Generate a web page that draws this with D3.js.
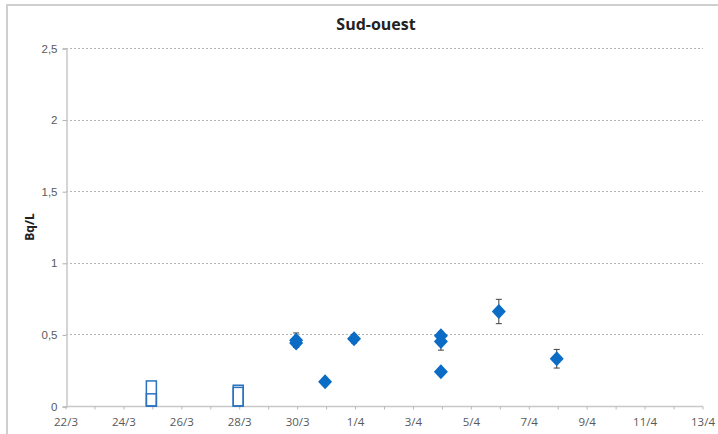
<!DOCTYPE html>
<html>
<head>
<meta charset="utf-8">
<script src="https://cdn.jsdelivr.net/npm/d3@7"></script>
<style>
  html, body { margin: 0; padding: 0; background: #fff; }
  svg { display: block; font-family: "Open Sans", "Noto Sans", sans-serif; }
</style>
</head>
<body>
<svg id="chart" width="718" height="434"></svg>
<script>
// Measurements (Bq/L) with uncertainty
const pointDates = ["2011-03-30", "2011-03-30", "2011-03-31", "2011-04-01", "2011-04-04", "2011-04-04", "2011-04-04", "2011-04-06", "2011-04-08"];
const pointValues = [0.44, 0.46, 0.17, 0.47, 0.49, 0.45, 0.24, 0.66, 0.33];
const pointErrors = [0.03, 0.05, 0.02, 0.03, 0.03, 0.06, 0.02, 0.085, 0.065];

// Detection limits (values below the limit)
const limitDates = ["2011-03-25", "2011-03-25", "2011-03-28", "2011-03-28"];
const limitValues = [0.175, 0.085, 0.145, 0.13];

const yTicks = [0, 0.5, 1, 1.5, 2, 2.5];
const xStart = "2011-03-22", xEnd = "2011-04-13";

const parse = d3.utcParse("%Y-%m-%d");
const fmtNum = v => String(v).replace(".", ",");
const fmtDate = d3.utcFormat("%-d/%-m");

const svg = d3.select("#chart");
const blue = "#0a6cc4";

// outer chart frame
svg.append("rect").attr("x", 7).attr("y", 5).attr("width", 730).attr("height", 450)
  .attr("fill", "none").attr("stroke", "#cfcfcf").attr("stroke-width", 2);

const x = d3.scaleUtc().domain([parse(xStart), parse(xEnd)]).range([64.5, 701.5]);
const y = d3.scaleLinear().domain([0, 2.5]).range([406, 48]);

// gridlines
svg.append("g").selectAll("line").data(yTicks.filter(t => t > 0)).join("line")
  .attr("x1", 66).attr("x2", 703)
  .attr("y1", d => Math.round(y(d)) + 0.5).attr("y2", d => Math.round(y(d)) + 0.5)
  .attr("stroke", "#b4b4b4").attr("stroke-dasharray", "2,2");

// y axis
const yAxis = svg.append("g").attr("transform", "translate(66.5,0.5)")
  .call(d3.axisLeft(y).tickValues(yTicks).tickFormat(fmtNum).tickSize(4).tickPadding(5));
yAxis.select(".domain").attr("stroke", "#c8c8c8").attr("stroke-width", 1.5);
yAxis.selectAll(".tick line").attr("stroke", "#b0b0b0");
yAxis.selectAll("text").attr("fill", "#595959").attr("font-size", 11.5);

// x axis
const days = d3.utcDay.range(parse(xStart), d3.utcDay.offset(parse(xEnd), 1));
const labelDays = days.filter((d, i) => i % 2 === 0);
const xAxisG = svg.append("g").attr("transform", "translate(0,406.5)");
xAxisG.append("line").attr("x1", 66).attr("x2", 703).attr("stroke", "#c8c8c8").attr("stroke-width", 1.5);
xAxisG.selectAll(".minor").data(days).join("line")
  .attr("x1", d => x(d) + 1.5).attr("x2", d => x(d) + 1.5).attr("y1", 0).attr("y2", 3)
  .attr("stroke", "#b8b8b8");
xAxisG.selectAll("text").data(labelDays).join("text")
  .attr("x", d => x(d) + 1.5).attr("y", 19)
  .attr("text-anchor", "middle").attr("fill", "#595959").attr("font-size", 11.5)
  .text(fmtDate);

// detection-limit boxes
svg.append("g").selectAll("rect").data(limitDates.map((d, i) => ({ d: parse(d), v: limitValues[i] }))).join("rect")
  .attr("x", d => x(d.d) - 5).attr("width", 10)
  .attr("y", d => y(d.v)).attr("height", d => y(0) - y(d.v))
  .attr("fill", "none").attr("stroke", "#2a72c0").attr("stroke-width", 1.5);

// error bars
const pts = pointDates.map((d, i) => ({ d: parse(d), v: pointValues[i], e: pointErrors[i] }));
const eb = svg.append("g").attr("stroke", "#404040").attr("stroke-width", 1);
pts.forEach(p => {
  const cx = x(p.d);
  eb.append("line").attr("x1", cx).attr("x2", cx).attr("y1", y(p.v + p.e)).attr("y2", y(p.v - p.e));
  [p.v + p.e, p.v - p.e].forEach(v => {
    eb.append("line").attr("x1", cx - 3).attr("x2", cx + 3).attr("y1", y(v)).attr("y2", y(v));
  });
});

// diamonds
svg.append("g").selectAll("path").data(pts).join("path")
  .attr("transform", d => `translate(${x(d.d)},${y(d.v)})`)
  .attr("d", "M0,-7.5L7,0L0,7.5L-7,0Z")
  .attr("fill", blue);

// title and axis label
svg.append("text").attr("x", 376).attr("y", 30).attr("text-anchor", "middle")
  .attr("font-size", 16).attr("font-weight", "bold").attr("fill", "#222").text("Sud-ouest");
svg.append("text").attr("transform", "translate(34,227) rotate(-90)").attr("text-anchor", "middle")
  .attr("font-size", 12).attr("font-weight", "bold").attr("fill", "#222").text("Bq/L");
</script>
</body>
</html>
